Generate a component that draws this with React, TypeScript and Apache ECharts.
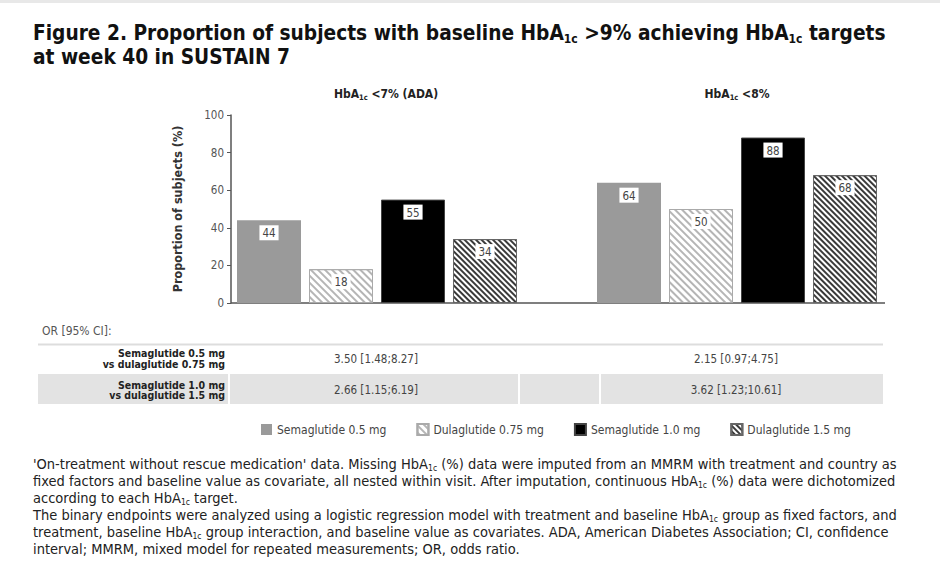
import React, { useEffect, useRef } from 'react';
import * as echarts from 'echarts';

const categories = ['HbA1c <7% (ADA)', 'HbA1c <8%'];
const seriesNames = ['Semaglutide 0.5 mg', 'Dulaglutide 0.75 mg', 'Semaglutide 1.0 mg', 'Dulaglutide 1.5 mg'];
const sema05 = [44, 64];
const dula075 = [18, 50];
const sema10 = [55, 88];
const dula15 = [34, 68];
const yTicks = [0, 20, 40, 60, 80, 100];
const yAxisName = 'Proportion of subjects (%)';
const orHeader = 'OR [95% CI]:';
const orRowLabels = [
  ['Semaglutide 0.5 mg', 'vs dulaglutide 0.75 mg'],
  ['Semaglutide 1.0 mg', 'vs dulaglutide 1.5 mg'],
];
const orValues = [
  ['3.50 [1.48;8.27]', '2.15 [0.97;4.75]'],
  ['2.66 [1.15;6.19]', '3.62 [1.23;10.61]'],
];
const titleLines = [
  'Figure 2. Proportion of subjects with baseline HbA1c >9% achieving HbA1c targets',
  'at week 40 in SUSTAIN 7',
];
const footnoteLines = [
  "'On-treatment without rescue medication' data. Missing HbA1c (%) data were imputed from an MMRM with treatment and country as",
  'fixed factors and baseline value as covariate, all nested within visit. After imputation, continuous HbA1c (%) data were dichotomized',
  'according to each HbA1c target.',
  'The binary endpoints were analyzed using a logistic regression model with treatment and baseline HbA1c group as fixed factors, and',
  'treatment, baseline HbA1c group interaction, and baseline value as covariates. ADA, American Diabetes Association; CI, confidence',
  'interval; MMRM, mixed model for repeated measurements; OR, odds ratio.',
];

const FONT = '"DejaVu Sans Condensed", "DejaVu Sans", sans-serif';
const sub = (s: string) => s.replace(/HbA1c/g, 'HbA{s|1c}');

export default function App() {
  const ref = useRef<HTMLDivElement>(null);
  useEffect(() => {
    if (!ref.current) return;
    const chart = echarts.init(ref.current, undefined, { renderer: 'svg' });
    const labelCfg = {
      show: true,
      position: 'insideTop',
      distance: 5,
      backgroundColor: '#fff',
      padding: [2, 3, 1, 3],
      color: '#444',
      fontSize: 11.5,
      fontFamily: FONT,
    };
    const barBase = { type: 'bar', barWidth: 64, barGap: '12.5%', xAxisIndex: 0, yAxisIndex: 0, label: labelCfg };
    const lightDecal = {
      symbol: 'rect', symbolSize: 1, dashArrayX: [1, 0], dashArrayY: [2, 3],
      rotation: Math.PI / 4, color: '#b5b5b5',
    };
    const darkDecal = {
      symbol: 'rect', symbolSize: 1, dashArrayX: [1, 0], dashArrayY: [2, 2],
      rotation: Math.PI / 4, color: '#3a3a3a',
    };
    const option: any = {
      animation: false,
      backgroundColor: '#fff',
      textStyle: { fontFamily: FONT },
      title: {
        text: sub(titleLines.join('\n')),
        left: 33,
        top: 21,
        padding: 0,
        textStyle: {
          fontFamily: FONT, fontSize: 20.7, fontWeight: 'bold', color: '#111', lineHeight: 24,
          rich: { s: { fontFamily: FONT, fontSize: 12, fontWeight: 'bold', color: '#111', verticalAlign: 'bottom', lineHeight: 15 } },
        },
      },
      grid: { left: 197, right: 23, top: 115, bottom: 267 },
      legend: {
        data: seriesNames,
        left: 256,
        top: 418,
        icon: 'rect',
        itemWidth: 11,
        itemHeight: 11,
        itemGap: 30,
        textStyle: { fontFamily: FONT, fontSize: 12, color: '#444' },
      },
      xAxis: [
        {
          type: 'category', data: categories, position: 'bottom',
          axisLine: { show: false }, axisTick: { show: false }, axisLabel: { show: false },
        },
        {
          type: 'category', data: categories.map((c, i) => ({ value: c, textStyle: i === 0 ? { padding: [0, 0, 0, 18] } : {} })),
          position: 'top',
          axisLine: { show: false }, axisTick: { show: false },
          axisLabel: {
            margin: 14,
            formatter: (v: string) => `{b|${v.replace('HbA1c', 'HbA')}}`.replace('{b|HbA', '{b|HbA}{s|1c}{b|'),
            rich: {
              b: { fontFamily: FONT, fontSize: 12, fontWeight: 'bold', color: '#222', lineHeight: 14 },
              s: { fontFamily: FONT, fontSize: 7.5, fontWeight: 'bold', color: '#222', verticalAlign: 'bottom', lineHeight: 9 },
            },
          },
        },
      ],
      yAxis: {
        type: 'value', min: yTicks[0], max: yTicks[yTicks.length - 1], interval: yTicks[1] - yTicks[0],
        offset: -34,
        axisLine: { show: true, lineStyle: { color: '#555', width: 1.5 } },
        axisTick: { show: true, length: 4, lineStyle: { color: '#555' } },
        axisLabel: { color: '#555', fontSize: 11.5, margin: 7, fontFamily: FONT },
        splitLine: { show: false },
        name: yAxisName,
        nameLocation: 'middle',
        nameRotate: 90,
        nameGap: 47,
        nameTextStyle: { fontFamily: FONT, fontSize: 12.5, fontWeight: 'bold', color: '#333' },
      },
      series: [
        { ...barBase, name: seriesNames[0], data: sema05, itemStyle: { color: '#9a9a9a' } },
        { ...barBase, name: seriesNames[1], data: dula075, itemStyle: { color: '#fff', borderColor: '#aaa', borderWidth: 1, decal: lightDecal } },
        { ...barBase, name: seriesNames[2], data: sema10, itemStyle: { color: '#000', borderColor: '#444', borderWidth: 1 } },
        { ...barBase, name: seriesNames[3], data: dula15, itemStyle: { color: '#fff', borderColor: '#666', borderWidth: 1, decal: darkDecal } },
      ],
      graphic: [
        { type: 'rect', left: 0, top: 0, shape: { width: 940, height: 3 }, style: { fill: '#e8e8e8' }, silent: true },
        { type: 'line', shape: { x1: 231, y1: 303, x2: 885, y2: 303 }, style: { stroke: '#555', lineWidth: 1.5 }, silent: true },
        { type: 'text', x: 42, y: 331, style: { text: orHeader, fontFamily: FONT, fontSize: 12, fill: '#555', verticalAlign: 'middle' } },
        { type: 'line', shape: { x1: 38, y1: 344.5, x2: 883, y2: 344.5 }, style: { stroke: '#ddd', lineWidth: 2 } },
        { type: 'rect', shape: { x: 38, y: 374, width: 845, height: 30 }, style: { fill: '#e3e3e3' } },
        { type: 'line', shape: { x1: 229, y1: 374, x2: 229, y2: 404 }, style: { stroke: '#fff', lineWidth: 2 } },
        { type: 'line', shape: { x1: 519, y1: 374, x2: 519, y2: 404 }, style: { stroke: '#fff', lineWidth: 2 } },
        { type: 'line', shape: { x1: 600, y1: 374, x2: 600, y2: 404 }, style: { stroke: '#fff', lineWidth: 2 } },
        ...orRowLabels.map((lines, r) => ({
          type: 'text', x: 225, y: [358.5, 390][r],
          style: { text: lines.join('\n'), fontFamily: FONT, fontSize: 10.5, fontWeight: 'bold', fill: '#222', align: 'right', verticalAlign: 'middle', lineHeight: 10.5 },
        })),
        ...orValues.flatMap((row, r) => row.map((v, c) => ({
          type: 'text', x: [376, 736][c], y: [358.5, 390][r],
          style: { text: v, fontFamily: FONT, fontSize: 11.5, fill: '#444', align: 'center', verticalAlign: 'middle' },
        }))),
        {
          type: 'text', x: 33, y: 455,
          style: {
            text: sub(footnoteLines.join('\n')),
            fontFamily: FONT, fontSize: 14.5, fill: '#222', lineHeight: 17,
            rich: { s: { fontFamily: FONT, fontSize: 8.5, fill: '#222', verticalAlign: 'bottom', lineHeight: 13 } },
          },
        },
      ],
    };
    chart.setOption(option);
    return () => chart.dispose();
  }, []);
  return <div ref={ref} style={{ position: 'fixed', left: 0, top: 0, width: 940, height: 570, background: '#fff' }} />;
}
